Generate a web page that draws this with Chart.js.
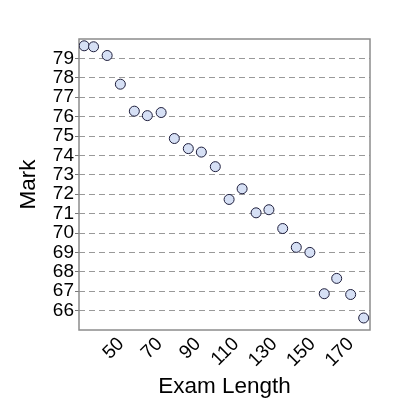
<!DOCTYPE html>
<html lang="en">
<head>
    <meta charset="UTF-8">
    <title>Mark vs Exam Length</title>
    <style>
        body {
            margin: 0;
            background-color: #FFFFFF;
        }
        #chartBox {
            width: 400px;
            height: 400px;
        }
    </style>
    <script src="https://cdn.jsdelivr.net/npm/chart.js"></script>
</head>
<body>
    <div id="chartBox">
        <canvas id="myChart" width="400" height="400"></canvas>
    </div>

    <script>
        // Data
        var examLength = [30.7, 35.6, 42.7, 49.6, 56.9, 63.7, 70.9, 77.8, 85.1, 91.9, 99.2,
                          106.4, 113.2, 120.5, 127.2, 134.4, 141.5, 148.6, 156.1, 162.6, 169.9, 176.7];
        var mark = [79.65, 79.6, 79.15, 77.67, 76.28, 76.05, 76.21, 74.87, 74.35, 74.17, 73.42,
                    71.73, 72.28, 71.04, 71.2, 70.23, 69.26, 69.0, 66.87, 67.66, 66.83, 65.62];
        var xTicks = [50, 70, 90, 110, 130, 150, 170];
        var yTicks = [66, 67, 68, 69, 70, 71, 72, 73, 74, 75, 76, 77, 78, 79];

        var points = examLength.map(function(x, i) {
            return { x: x, y: mark[i] };
        });

        // grey frame round the plot area
        var frame = {
            id: 'frame',
            beforeDatasetsDraw: function(chart) {
                var a = chart.chartArea;
                var ctx = chart.ctx;
                ctx.save();
                ctx.strokeStyle = '#8c8c8c';
                ctx.lineWidth = 1.5;
                ctx.strokeRect(a.left, a.top, a.right - a.left, a.bottom - a.top);
                ctx.restore();
            }
        };

        var ctx = document.getElementById('myChart').getContext('2d');
        new Chart(ctx, {
            type: 'scatter',
            data: {
                datasets: [{
                    label: 'Mark',
                    data: points,
                    backgroundColor: '#d6e0f5',
                    borderColor: '#1e1e3c',
                    borderWidth: 1,
                    pointRadius: 5,
                    pointHoverRadius: 5
                }]
            },
            plugins: [frame],
            options: {
                responsive: false,
                devicePixelRatio: 1,
                animation: false,
                layout: {
                    padding: { top: 39, right: 30, bottom: 0, left: 0 }
                },
                plugins: {
                    legend: { display: false },
                    tooltip: { enabled: false }
                },
                scales: {
                    x: {
                        type: 'linear',
                        min: 28,
                        max: 180,
                        afterBuildTicks: function(scale) {
                            scale.ticks = xTicks.map(function(v) { return { value: v }; });
                        },
                        afterFit: function(scale) { scale.height = 70; },
                        grid: { display: false, drawTicks: false },
                        border: { display: false },
                        ticks: {
                            autoSkip: false,
                            minRotation: 45,
                            maxRotation: 45,
                            padding: 3,
                            color: '#000',
                            font: { family: 'Liberation Sans', size: 19 }
                        },
                        title: {
                            display: true,
                            text: 'Exam Length',
                            color: '#000',
                            padding: { top: 0, bottom: 0 },
                            font: { family: 'Liberation Sans', size: 22.5 }
                        }
                    },
                    y: {
                        type: 'linear',
                        min: 65,
                        max: 80,
                        afterBuildTicks: function(scale) {
                            scale.ticks = yTicks.map(function(v) { return { value: v }; });
                        },
                        afterFit: function(scale) { scale.width = 79; },
                        grid: {
                            color: '#999',
                            lineWidth: 1,
                            drawTicks: true,
                            tickLength: 4,
                            tickColor: '#777'
                        },
                        border: { display: false, dash: [6, 4] },
                        ticks: {
                            autoSkip: false,
                            padding: 1,
                            color: '#000',
                            font: { family: 'Liberation Sans', size: 19 }
                        },
                        title: {
                            display: true,
                            text: 'Mark',
                            color: '#000',
                            padding: { top: 15, bottom: 0 },
                            font: { family: 'Liberation Sans', size: 22.5 }
                        }
                    }
                }
            }
        });
    </script>
</body>
</html>
